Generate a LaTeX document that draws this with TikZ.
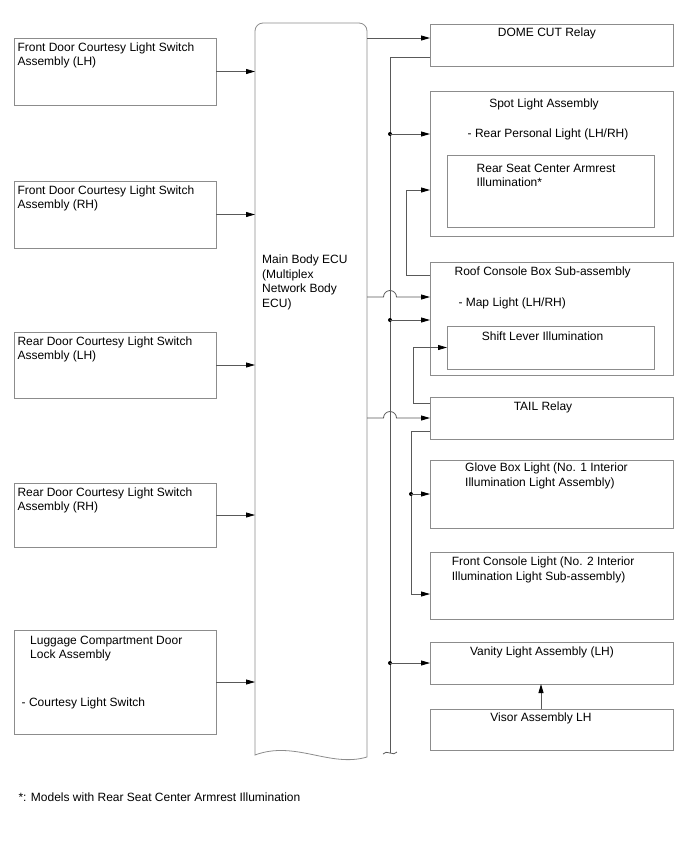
\documentclass[tikz,border=0pt]{standalone}
\usepackage{fontspec}
\setmainfont{Liberation Sans}
\usetikzlibrary{arrows.meta}
\newcommand{\blk}[5]{%
  \node[box,anchor=north west,minimum width=#4pt,minimum height=#5pt] (#1) at (#2,#3) {};
}

\begin{document}
\begin{tikzpicture}[x=1pt,y=-1pt,
    box/.style={draw=black!45,line width=0.8pt,inner sep=0pt,outer sep=0pt},
    wire/.style={draw=black!65,line width=0.8pt},
    conn/.style={wire,-{Triangle[length=9pt,width=5pt,black]}},
    txt/.style={anchor=north west,inner sep=0pt,align=left},
    ttl/.style={anchor=north,inner sep=0pt},
    every node/.style={font=\fontsize{12}{14.7}\selectfont}]
    \useasboundingbox (0,0) rectangle (688,852);
    \blk{fdl}{14}{38}{202}{67}
    \blk{fdr}{14}{181}{202}{67}
    \blk{rdl}{14}{332}{202}{66}
    \blk{rdr}{14}{483}{202}{64}
    \blk{lug}{14}{630}{202}{104}
    \blk{dome}{430}{24}{243}{42}
    \blk{spot}{430}{91}{243}{145}
    \blk{arm}{447}{155}{207}{72}
    \blk{roof}{430}{262}{243}{113}
    \blk{shift}{447}{326}{207}{43}
    \blk{tail}{430}{397}{243}{42}
    \blk{glove}{430}{460}{243}{68}
    \blk{fcon}{430}{552}{243}{67}
    \blk{vanity}{430}{642}{243}{42}
    \blk{visor}{430}{709}{243}{41}
    \node[inner sep=0pt,outer sep=0pt,anchor=north west,minimum width=112pt,minimum height=734pt] (ecu) at (255,23) {};
    \draw[box] (255,755) -- (255,31) arc[start angle=180,end angle=270,radius=8]
      -- (359,23) arc[start angle=270,end angle=360,radius=8]
      -- (367,757) .. controls (330,768) and (295,740) .. (255,755) -- cycle;

    \node[txt] (fdlT) at (17.3,42.2) {Front Door Courtesy Light Switch\\Assembly (LH)};
    \node[txt] (fdrT) at (17.3,185.2) {Front Door Courtesy Light Switch\\Assembly (RH)};
    \node[txt] (rdlT) at (17.3,336.2) {Rear Door Courtesy Light Switch\\Assembly (LH)};
    \node[txt] (rdrT) at (17.3,487.2) {Rear Door Courtesy Light Switch\\Assembly (RH)};
    \node[txt] (lugT) at (30,635.5) {Luggage Compartment Door\\Lock Assembly};
    \node[txt] (lugS) at (21.5,697.5) {- Courtesy Light Switch};
    \node[txt] (ecuT) at (262,254.5) {Main Body ECU\\(Multiplex\\Network Body\\ECU)};
    \node[ttl] (domeT) at (547,27.5) {DOME CUT Relay};
    \node[ttl] (spotT) at (544,99) {Spot Light Assembly};
    \node[txt] (spotS) at (467.5,129) {- Rear Personal Light (LH/RH)};
    \node[txt] (armT) at (476.5,163.5) {Rear Seat Center Armrest\\Illumination*};
    \node[ttl] (roofT) at (542.7,267) {Roof Console Box Sub-assembly};
    \node[txt] (roofS) at (458.3,297.5) {- Map Light (LH/RH)};
    \node[txt] (shiftT) at (481.7,332) {Shift Lever Illumination};
    \node[ttl] (tailT) at (543,401.5) {TAIL Relay};
    \node[txt] (gloveT) at (465,462.5) {Glove Box Light (No. 1 Interior\\Illumination Light Assembly)};
    \node[txt] (fconT) at (451.7,556.5) {Front Console Light (No. 2 Interior\\Illumination Light Sub-assembly)};
    \node[ttl] (vanT) at (542,647) {Vanity Light Assembly (LH)};
    \node[ttl] (visorT) at (541,713) {Visor Assembly LH};
    \node[txt] (note) at (18.3,793) {*: Models with Rear Seat Center Armrest Illumination};

    \foreach \b in {fdl,fdr,rdl,rdr,lug}
      \draw[conn] (\b.east) -- (\b.east -| ecu.west);

    \coordinate (domeA) at ([yshift=7pt]dome.west);
    \coordinate (domeB) at ([yshift=-12pt]dome.west);
    \coordinate (bus) at ([xshift=-40pt]domeB);
    \coordinate (busEnd) at (390,753);
    \draw[conn] (domeA -| ecu.east) -- (domeA);
    \draw[wire] (domeB) -- (bus) -- (busEnd);
    \draw[wire] (383,754) .. controls (386,749) and (394,757) .. (397,752);

    \coordinate (spotA) at ([yshift=29.5pt]spot.west);
    \coordinate (spotB) at ([yshift=-26.5pt]spot.west);
    \fill (spotA -| bus) circle (2pt);
    \draw[conn] (spotA -| bus) -- (spotA);

    \coordinate (roofA) at ([yshift=21.5pt]roof.west);
    \coordinate (roofB) at ([yshift=-1.5pt]roof.west);
    \coordinate (roofC) at ([yshift=43.5pt]roof.west);
    \coordinate (h1) at (roofA -| bus);
    \draw[conn] (roofA -| ecu.east) -- ([xshift=-6.5pt]h1) arc[start angle=180,end angle=360,radius=6.5] -- (roofA);
    \fill (roofB -| bus) circle (2pt);
    \draw[conn] (roofB -| bus) -- (roofB);
    \draw[conn] (roofC) -- ++(-24,0) |- (spotB);

    \coordinate (tailA) at ([yshift=14.5pt]tail.west);
    \coordinate (tailB) at ([yshift=-13.5pt]tail.west);
    \coordinate (h2) at (tail.west -| bus);
    \draw[conn] (tail.west -| ecu.east) -- ([xshift=-6.5pt]h2) arc[start angle=180,end angle=360,radius=6.5] -- (tail.west);
    \draw[conn] (tailA) -- ++(-17,0) |- (shift.west);
    \coordinate (tb) at ([xshift=-19pt]tailB);
    \coordinate (fconA) at ([yshift=-8.5pt]fcon.west);
    \draw[conn] (tailB) -- (tb) |- (fconA);
    \fill (glove.west -| tb) circle (2pt);
    \draw[conn] (glove.west -| tb) -- (glove.west);

    \fill (vanity.west -| bus) circle (2pt);
    \draw[conn] (vanity.west -| bus) -- (vanity.west);
    \draw[conn] ([xshift=-10.5pt]visor.north) -- ([xshift=-10.5pt]vanity.south);
\end{tikzpicture}
\end{document}
